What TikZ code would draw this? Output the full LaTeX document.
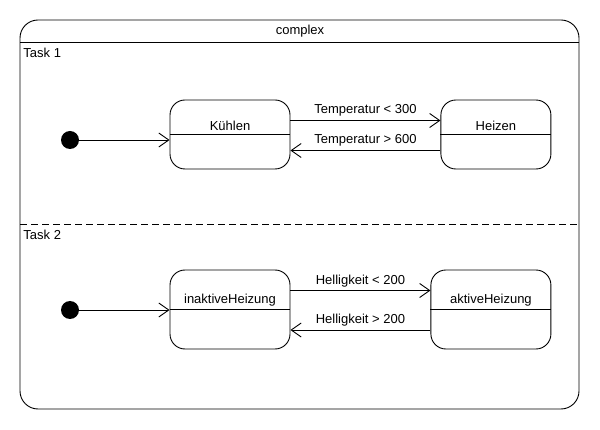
\documentclass[tikz,border=0pt]{standalone}
\usepackage{fontspec}
\setmainfont{Liberation Sans}
\usetikzlibrary{positioning, arrows.meta}

\tikzset{
	state/.style={draw, rounded corners=15pt, minimum width=120pt, inner sep=0pt},
	start/.style={circle, fill=black, minimum size=18pt, inner sep=0pt},
	trans/.style={-{Straight Barb[length=10pt, width=14pt, line width=0.9pt]}},
	lbl/.style={above, inner sep=4pt},
	tasklbl/.style={anchor=west, inner sep=2pt},
}

\begin{document}
\begin{tikzpicture}[x=1pt, y=-1pt, line width=0.9pt, font=\fontsize{13}{15}\selectfont]
	\useasboundingbox (0,0) rectangle (600,430);
	
	\draw[rounded corners=18pt] (20,20) rectangle (579,409);
	\coordinate (hl) at (20,42);
	\coordinate (hr) at (579,42);
	\draw (hl) -- (hr);
	\node (title) at (300,31) {complex};
	
	\node[tasklbl] (task1) at (21,53) {Task 1};
	\coordinate (dl) at (20,224);
	\coordinate (dr) at (579,224);
	\draw[dash pattern=on 7pt off 4pt] (dl) -- (dr);
	\node[tasklbl] (task2) at (21,235) {Task 2};
	
	\node[start] (init1) at (70,140) {};
	\node[state, minimum height=69pt] (kuehlen) at (230,134.5) {};
	\node[state, minimum width=110pt, minimum height=69pt, right=150pt of kuehlen] (heizen) {};
	\node[above=3pt, inner sep=0pt] (kuehlenname) at (kuehlen.center) {Kühlen};
	\node[above=3pt, inner sep=0pt] (heizenname) at (heizen.center) {Heizen};
	\draw (kuehlen.west) -- (kuehlen.east);
	\draw (heizen.west) -- (heizen.east);
	
	\draw[trans] (init1) -- (init1 -| kuehlen.west);
	\draw[trans] ([yshift=14pt]kuehlen.east) -- node[lbl] (t300) {Temperatur < 300} ([yshift=14pt]heizen.west);
	\draw[trans] ([yshift=-16pt]heizen.west) -- node[lbl] (t600) {Temperatur > 600} ([yshift=-16pt]kuehlen.east);
	
	\node[start] (init2) at (70,310) {};
	\node[state, minimum height=79pt] (inaktiv) at (230,309.5) {};
	\node[state, minimum height=79pt, right=140pt of inaktiv] (aktiv) {};
	\node[above=3pt, inner sep=0pt] (inaktivname) at (inaktiv.center) {inaktiveHeizung};
	\node[above=3pt, inner sep=0pt] (aktivname) at (aktiv.center) {aktiveHeizung};
	\draw (inaktiv.west) -- (inaktiv.east);
	\draw (aktiv.west) -- (aktiv.east);
	
	\draw[trans] (init2) -- (init2 -| inaktiv.west);
	\draw[trans] ([yshift=19pt]inaktiv.east) -- node[lbl, inner sep=3pt] (h1) {Helligkeit < 200} ([yshift=19pt]aktiv.west);
	\draw[trans] ([yshift=-20.5pt]aktiv.west) -- node[lbl, inner sep=3pt] (h2) {Helligkeit > 200} ([yshift=-20.5pt]inaktiv.east);
\end{tikzpicture}
\end{document}
